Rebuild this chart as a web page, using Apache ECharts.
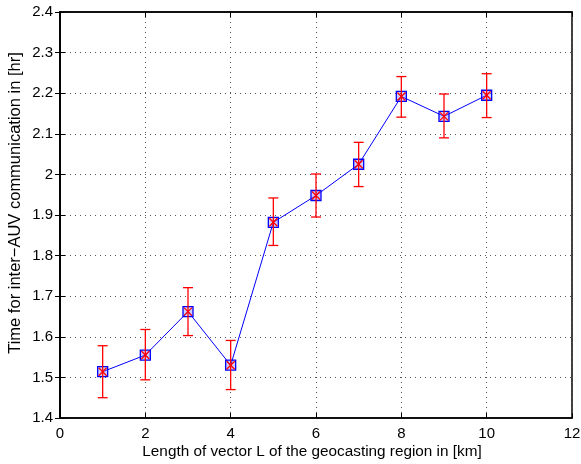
<!DOCTYPE html>
<html>
<head>
<meta charset="utf-8">
<script src="https://cdn.jsdelivr.net/npm/echarts@6/dist/echarts.min.js"></script>
<style>
  html, body { margin: 0; padding: 0; background: #fff; }
  #chart { width: 581px; height: 464px; }
</style>
</head>
<body>
<div id="chart"></div>
<script>
// values
const lengths = [1, 2, 3, 4, 5, 6, 7, 8, 9, 10];
const meanTime = [1.514, 1.555, 1.662, 1.530, 1.882, 1.948, 2.025, 2.192, 2.143, 2.195];
const upperTime = [1.578, 1.618, 1.721, 1.591, 1.942, 2.001, 2.079, 2.241, 2.198, 2.248];
const lowerTime = [1.450, 1.494, 1.603, 1.470, 1.825, 1.895, 1.970, 2.141, 2.090, 2.140];

const xTitle = 'Length of vector L of the geocasting region in [km]';
const yTitle = 'Time for inter\u2212AUV communication in [hr]';

const font = 'Liberation Sans, Arial, sans-serif';
const chart = echarts.init(document.getElementById('chart'));

const dotted = { show: true, lineStyle: { color: '#555', type: [1, 4], width: 1 } };

function errorBars(params, api) {
  const x = api.value(0);
  const top = api.coord([x, api.value(2)]);
  const bot = api.coord([x, api.value(3)]);
  const mid = api.coord([x, api.value(1)]);
  const cap = 5, c = 4;
  const st = { stroke: '#ff0000', lineWidth: 1.3 };
  return {
    type: 'group',
    children: [
      { type: 'line', shape: { x1: top[0], y1: top[1], x2: bot[0], y2: bot[1] }, style: st },
      { type: 'line', shape: { x1: top[0] - cap, y1: top[1], x2: top[0] + cap, y2: top[1] }, style: st },
      { type: 'line', shape: { x1: bot[0] - cap, y1: bot[1], x2: bot[0] + cap, y2: bot[1] }, style: st },
      { type: 'line', shape: { x1: mid[0] - c, y1: mid[1] - c, x2: mid[0] + c, y2: mid[1] + c }, style: st },
      { type: 'line', shape: { x1: mid[0] - c, y1: mid[1] + c, x2: mid[0] + c, y2: mid[1] - c }, style: st }
    ]
  };
}

const axisLabel = { color: '#000', fontFamily: font, fontSize: 15 };
const axisLine = { show: true, lineStyle: { color: '#000', width: 1.5 } };
const tickIn = { show: true, inside: true, length: 5, lineStyle: { color: '#000' } };

chart.setOption({
  animation: false,
  backgroundColor: '#fff',
  grid: {
    left: 60, right: 9, top: 12, bottom: 46,
    outerBoundsMode: 'none', containLabel: false,
    show: true, borderColor: '#000', borderWidth: 1.5
  },
  graphic: [
    {
      type: 'text', x: 312, y: 452,
      style: { text: xTitle, fill: '#000', font: '15.3px ' + font, align: 'center', verticalAlign: 'middle' }
    },
    {
      type: 'text', x: 15, y: 203, rotation: Math.PI / 2,
      style: { text: yTitle, fill: '#000', font: '16.5px ' + font, align: 'center', verticalAlign: 'middle' }
    }
  ],
  xAxis: [
    {
      type: 'value', min: 0, max: 12, interval: 2,
      axisLine, axisTick: tickIn, splitLine: dotted,
      axisLabel: { ...axisLabel, margin: 8 }
    },
    {
      type: 'value', min: 0, max: 12, interval: 2, position: 'top',
      axisLine, axisTick: tickIn, splitLine: { show: false }, axisLabel: { show: false }
    }
  ],
  yAxis: [
    {
      type: 'value', min: 1.4, max: 2.4, interval: 0.1,
      axisLine, axisTick: tickIn, splitLine: dotted,
      axisLabel: { ...axisLabel, margin: 7, formatter: v => String(Math.round(v * 10) / 10) }
    },
    {
      type: 'value', min: 1.4, max: 2.4, interval: 0.1, position: 'right',
      axisLine, axisTick: tickIn, splitLine: { show: false }, axisLabel: { show: false }
    }
  ],
  series: [
    {
      type: 'line',
      data: lengths.map((x, i) => [x, meanTime[i]]),
      symbol: 'rect', symbolSize: 10,
      lineStyle: { color: '#0000ff', width: 1 },
      itemStyle: { color: 'rgba(120,120,255,0.35)', borderColor: '#0000ff', borderWidth: 1.3 },
      z: 2
    },
    {
      type: 'custom',
      data: lengths.map((x, i) => [x, meanTime[i], upperTime[i], lowerTime[i]]),
      renderItem: errorBars,
      z: 3
    }
  ]
});
</script>
</body>
</html>
